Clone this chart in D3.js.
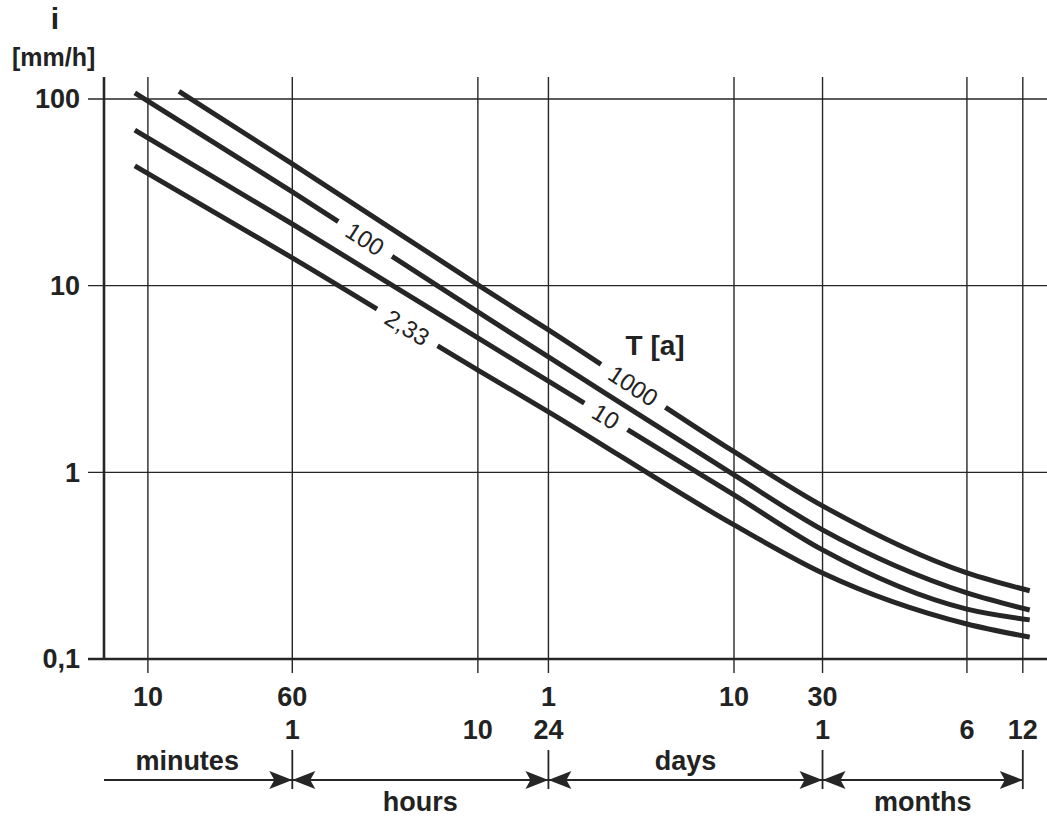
<!DOCTYPE html>
<html lang="en">
<head>
<meta charset="UTF-8">
<title>Rainfall intensity - duration - frequency</title>
<script src="https://d3js.org/d3.v7.min.js"></script>
<style>
  body { margin: 0; background: #fff; }
  svg text { font-family: "Liberation Sans", Arial, sans-serif; fill: #222; }
  .bold { font-weight: bold; }
</style>
</head>
<body>
<svg id="chart" width="1047" height="818"></svg>
<script>
// ---- data (durations in minutes, intensity i in mm/h) ----
const durations = [8.5, 60, 600, 1440, 14400, 43200, 259200, 565000];
const durations1000 = [14.7, 60, 600, 1440, 14400, 43200, 259200, 565000];
const iT233 = [43.8, 14.1, 3.53, 2.11, 0.523, 0.289, 0.154, 0.131];
const iT10 = [68.2, 21.4, 5.25, 3.08, 0.757, 0.384, 0.185, 0.162];
const iT100 = [108, 31.8, 7.23, 4.15, 0.968, 0.492, 0.226, 0.183];
const iT1000 = [110, 44.9, 10.1, 5.79, 1.29, 0.661, 0.289, 0.232];

const seriesLabels = ["2,33", "10", "100", "1000"];
const labelAt = [250, 2940, 148, 4130]; // duration where each curve label sits

const yTicks = [100, 10, 1, 0.1];
const yTickLabels = ["100", "10", "1", "0,1"];
const gridDurations = [10, 60, 600, 1440, 14400, 43200, 259200, 518400];
const row1Ticks = [10, 60, 1440, 14400, 43200];
const row1Labels = ["10", "60", "1", "10", "30"];
const row2Ticks = [60, 600, 1440, 43200, 259200, 518400];
const row2Labels = ["1", "10", "24", "1", "6", "12"];
const unitNames = ["minutes", "hours", "days", "months"];
const unitBounds = [5.8, 60, 1440, 43200, 518400];

const series = [
  { name: seriesLabels[0], t: durations, i: iT233 },
  { name: seriesLabels[1], t: durations, i: iT10 },
  { name: seriesLabels[2], t: durations, i: iT100 },
  { name: seriesLabels[3], t: durations1000, i: iT1000 }
];

const svg = d3.select("#chart");
const ink = "#262626";

const x = d3.scaleLog().domain([5.8, 700000]).range([104, 1047]);
const y = d3.scaleLog().domain([0.1, 100]).range([659, 99]);
const yTop = y(100) - 22;
const yBottom = y(0.1);

// grid
svg.append("g").selectAll("line")
  .data(yTicks)
  .enter().append("line")
  .attr("x1", 88).attr("x2", 1047)
  .attr("y1", d => y(d)).attr("y2", d => y(d))
  .attr("stroke", ink)
  .attr("stroke-width", d => d === 0.1 ? 2.6 : 1.4);

svg.append("g").selectAll("line")
  .data(gridDurations)
  .enter().append("line")
  .attr("x1", d => x(d)).attr("x2", d => x(d))
  .attr("y1", yTop).attr("y2", yBottom + 14)
  .attr("stroke", ink)
  .attr("stroke-width", 1.4);

// left axis
svg.append("line")
  .attr("x1", x(5.8)).attr("x2", x(5.8))
  .attr("y1", yTop).attr("y2", yBottom)
  .attr("stroke", ink).attr("stroke-width", 2.6);

// y labels
svg.append("g").selectAll("text")
  .data(yTicks)
  .enter().append("text")
  .attr("class", "bold")
  .attr("x", 80).attr("y", d => y(d))
  .attr("dy", "0.35em")
  .attr("text-anchor", "end")
  .style("font-size", "27px")
  .text((d, k) => yTickLabels[k]);

svg.append("text").attr("class", "bold")
  .attr("x", 55).attr("y", 29).attr("text-anchor", "middle")
  .style("font-size", "30px").text("i");
svg.append("text").attr("class", "bold")
  .attr("x", 12).attr("y", 66)
  .style("font-size", "25px").text("[mm/h]");

// x labels, two rows
svg.append("g").selectAll("text")
  .data(row1Ticks)
  .enter().append("text")
  .attr("class", "bold")
  .attr("x", d => x(d)).attr("y", 706)
  .attr("text-anchor", "middle")
  .style("font-size", "27px")
  .text((d, k) => row1Labels[k]);

svg.append("g").selectAll("text")
  .data(row2Ticks)
  .enter().append("text")
  .attr("class", "bold")
  .attr("x", d => x(d)).attr("y", 739)
  .attr("text-anchor", "middle")
  .style("font-size", "27px")
  .text((d, k) => row2Labels[k]);

// unit arrows
const arrowY = 780;
const units = unitNames.map((n, k) => ({ name: n, from: unitBounds[k], to: unitBounds[k + 1], k: k }));
const ug = svg.append("g");
ug.append("line")
  .attr("x1", x(unitBounds[0])).attr("x2", x(unitBounds[unitBounds.length - 1]))
  .attr("y1", arrowY).attr("y2", arrowY)
  .attr("stroke", ink).attr("stroke-width", 1.8);
ug.selectAll(".sep")
  .data(unitBounds.slice(1))
  .enter().append("line")
  .attr("x1", d => x(d)).attr("x2", d => x(d))
  .attr("y1", arrowY - 30).attr("y2", arrowY + 9)
  .attr("stroke", ink).attr("stroke-width", 1.8);

const head = "M0,0 L-23,-9 L-18,0 L-23,9 Z";
// arrow heads pointing right at the end of each unit
ug.selectAll(".ahr")
  .data(units)
  .enter().append("path")
  .attr("d", head)
  .attr("fill", ink)
  .attr("transform", d => `translate(${x(d.to)},${arrowY})`);
// arrow heads pointing left at the start (not for the first)
ug.selectAll(".ahl")
  .data(units.slice(1))
  .enter().append("path")
  .attr("d", head)
  .attr("fill", ink)
  .attr("transform", d => `translate(${x(d.from)},${arrowY}) scale(-1,1)`);

ug.selectAll("text")
  .data(units)
  .enter().append("text")
  .attr("class", "bold")
  .attr("x", d => (x(d.from) + x(d.to)) / 2 - (d.k === 0 ? 11 : 0))
  .attr("y", d => d.k % 2 === 0 ? 770 : 811)
  .attr("text-anchor", "middle")
  .style("font-size", "27px")
  .text(d => d.name);

// curves
const line = d3.line()
  .x(d => x(d[0]))
  .y(d => y(d[1]))
  .curve(d3.curveMonotoneX);

svg.append("g").selectAll("path")
  .data(series)
  .enter().append("path")
  .attr("d", s => line(s.t.map((t, k) => [t, s.i[k]])))
  .attr("fill", "none")
  .attr("stroke", ink)
  .attr("stroke-width", 5)
  .attr("stroke-linecap", "butt");

// log-log interpolation along a curve
function intensityAt(s, t) {
  for (let k = 0; k < s.t.length - 1; k++) {
    if (t >= s.t[k] && t <= s.t[k + 1]) {
      const f = (Math.log(t) - Math.log(s.t[k])) / (Math.log(s.t[k + 1]) - Math.log(s.t[k]));
      return Math.exp(Math.log(s.i[k]) + f * (Math.log(s.i[k + 1]) - Math.log(s.i[k])));
    }
  }
  return s.i[s.i.length - 1];
}

// curve labels sitting in a gap of the curve
series.forEach((s, k) => {
  const t = labelAt[k];
  const px = x(t), py = y(intensityAt(s, t));
  const a = Math.atan2(y(intensityAt(s, t * 1.3)) - y(intensityAt(s, t / 1.3)),
                       x(t * 1.3) - x(t / 1.3)) * 180 / Math.PI;
  const g = svg.append("g").attr("transform", `translate(${px},${py}) rotate(${a})`);
  const gap = g.append("rect").attr("fill", "#fff");
  const txt = g.append("text")
    .attr("text-anchor", "middle")
    .attr("dy", "0.36em")
    .style("font-size", "24px")
    .text(s.name);
  const w = txt.node().getComputedTextLength() + 24;
  gap.attr("x", -w / 2).attr("y", -7).attr("width", w).attr("height", 14);
});

// legend title
svg.append("text").attr("class", "bold")
  .attr("x", x(3750)).attr("y", y(4.25))
  .style("font-size", "28px")
  .text("T [a]");
</script>
</body>
</html>
